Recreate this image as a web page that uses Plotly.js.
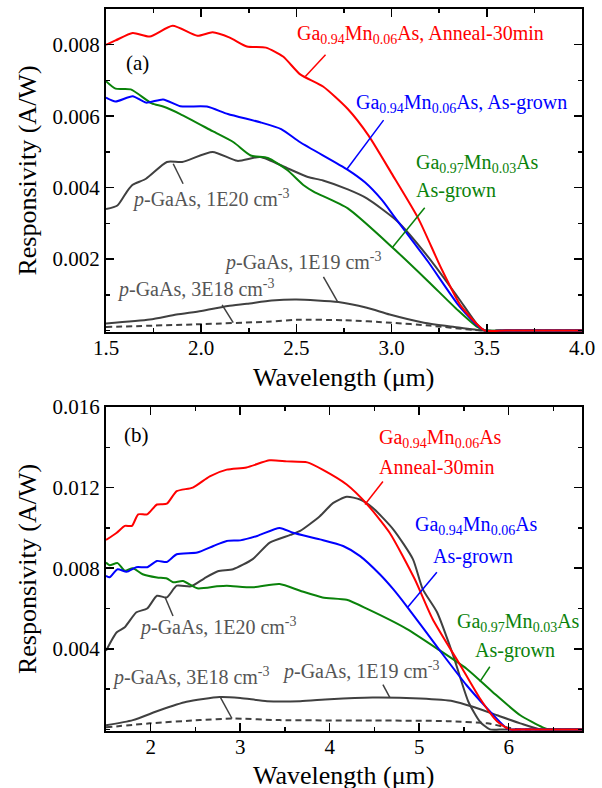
<!DOCTYPE html>
<html>
<head>
<meta charset="utf-8">
<script src="https://cdn.plot.ly/plotly-3.0.1.min.js"></script>
<style>html,body{margin:0;padding:0;background:#fff;}#chart{width:602px;height:788px;}</style>
</head>
<body>
<div id="chart"></div>
<script>
// ---------- Panel (a) data: wavelength (um) and responsivity (A/W) ----------
const aRedX   = [1.5,1.55,1.64,1.73,1.85,1.98,2.06,2.15,2.24,2.34,2.43,2.52,2.64,2.77,2.88,3.0,3.14,3.26,3.36,3.45,3.49,3.6,4.0];
const aRedY   = [0.0080,0.00812,0.00833,0.00823,0.00853,0.00825,0.00835,0.0082,0.00795,0.00792,0.00767,0.00717,0.00683,0.0062,0.00545,0.0044,0.00314,0.00175,0.00072,0.00017,0,0,0];
const aBlueX  = [1.5,1.55,1.64,1.71,1.80,1.89,2.03,2.14,2.31,2.42,2.52,2.77,2.86,2.95,3.01,3.19,3.35,3.45,3.49,3.6,4.0];
const aBlueY  = [0.00652,0.00641,0.00656,0.00638,0.00647,0.00628,0.00627,0.00606,0.00583,0.00564,0.00527,0.0045,0.00415,0.00365,0.00322,0.00194,0.00072,0.00014,0,0,0];
const aGreenX = [1.5,1.55,1.63,1.74,1.80,1.89,2.06,2.17,2.26,2.35,2.45,2.54,2.59,2.77,3.01,3.19,3.35,3.45,3.49,3.6,4.0];
const aGreenY = [0.00698,0.00677,0.00675,0.00636,0.00627,0.00606,0.00558,0.00527,0.0049,0.00483,0.0045,0.00406,0.00389,0.00342,0.0023,0.00139,0.00056,0.0001,0,0,0];
const a1E20X  = [1.5,1.56,1.61,1.64,1.71,1.82,1.90,2.06,2.19,2.31,2.45,2.56,2.64,2.77,2.87,3.03,3.21,3.35,3.45,3.49,3.6,4.0];
const a1E20Y  = [0.0034,0.0035,0.00389,0.00408,0.00425,0.00472,0.00472,0.005,0.00475,0.00486,0.00455,0.0043,0.0042,0.00395,0.0037,0.00306,0.00194,0.00092,0.00017,0,0,0];
const a1E19X  = [1.5,1.73,1.87,2.0,2.14,2.24,2.37,2.5,2.72,2.87,2.99,3.17,3.33,3.48,3.6,4.0];
const a1E19Y  = [0.0002,0.00031,0.00045,0.00055,0.00069,0.00075,0.00084,0.00087,0.0008,0.00064,0.00045,0.00022,0.0001,0,0,0];
const a3E18X  = [1.5,2.0,2.35,2.5,2.75,3.0,3.2,3.43,3.5,3.6,4.0];
const a3E18Y  = [0.0001,0.00018,0.00025,0.0003,0.00029,0.00022,0.00014,0.00002,0,0,0];

// ---------- Panel (b) data ----------
const bRedX   = [1.5,1.62,1.71,1.79,1.86,1.96,2.07,2.18,2.29,2.47,2.66,2.85,3.07,3.33,3.52,3.75,3.92,4.19,4.42,4.67,4.95,5.15,5.46,5.68,5.87,6.01,6.15,6.82];
const bRedY   = [0.0094,0.00976,0.0101,0.0101,0.01067,0.01067,0.01116,0.0112,0.01182,0.012,0.01256,0.01289,0.013,0.01335,0.0133,0.01325,0.01289,0.01215,0.01116,0.00976,0.00746,0.00548,0.00318,0.00153,0.0004,0,0,0];
const bBlueX  = [1.5,1.54,1.63,1.73,1.84,1.96,2.07,2.18,2.29,2.52,2.70,2.85,3.0,3.19,3.44,3.59,3.89,4.15,4.34,4.56,4.71,4.87,5.23,5.53,5.76,5.94,6.0,6.15,6.82];
const bBlueY  = [0.00762,0.00755,0.00795,0.00782,0.00805,0.00805,0.00836,0.00831,0.00869,0.00878,0.0091,0.00935,0.00938,0.0096,0.01,0.00976,0.00943,0.0091,0.0086,0.0077,0.00696,0.00606,0.00392,0.00219,0.00104,0.0002,0,0,0];
const bGreenX = [1.5,1.54,1.63,1.71,1.80,1.91,2.07,2.18,2.25,2.36,2.52,2.74,2.85,3.14,3.44,3.67,3.92,4.19,4.42,4.86,5.23,5.53,5.82,6.13,6.38,6.45,6.6,6.82];
const bGreenY = [0.00828,0.00815,0.00825,0.00787,0.008,0.0077,0.00754,0.00749,0.0073,0.00736,0.007,0.0071,0.00713,0.00705,0.00721,0.00688,0.00655,0.00643,0.00598,0.00499,0.00392,0.00301,0.00186,0.0007,0.0001,0,0,0];
const b1E20X  = [1.5,1.62,1.71,1.84,1.96,2.07,2.18,2.29,2.45,2.6,2.75,2.92,3.14,3.33,3.56,3.67,3.89,4.04,4.19,4.34,4.48,4.71,4.93,5.04,5.20,5.38,5.55,5.68,5.79,5.95,6.82];
const b1E20Y  = [0.0039,0.00482,0.00507,0.00581,0.006,0.00663,0.00655,0.00713,0.0071,0.0075,0.00785,0.00795,0.00845,0.00927,0.00965,0.00985,0.01058,0.01124,0.01154,0.01141,0.011,0.00993,0.00845,0.00696,0.00581,0.00367,0.00137,0.00038,0,0,0];
const b1E19X  = [1.5,1.8,2.1,2.4,2.77,3.0,3.3,3.67,4.0,4.48,5.01,5.38,5.6,5.87,6.13,6.35,6.5,6.82];
const b1E19Y  = [0.0002,0.00046,0.00095,0.00137,0.00161,0.00156,0.0014,0.0014,0.0015,0.00158,0.00153,0.0014,0.00112,0.0007,0.0003,0,0,0];
const b3E18X  = [1.5,1.99,2.55,2.92,3.44,4.5,5.31,5.76,5.98,6.1,6.25,6.82];
const b3E18Y  = [0.0001,0.0003,0.00046,0.00054,0.00046,0.00044,0.00041,0.0003,0.0001,0,0,0];

// tick labels
const aXTicks = [1.5,2.0,2.5,3.0,3.5,4.0];
const aYTicks = [0.002,0.004,0.006,0.008];
const bXTicks = [2,3,4,5,6];
const bYTicks = [0.004,0.008,0.012,0.016];

const RED='#ff0000', BLUE='#0000ff', GREEN='#0a820a', GRAY='#404040', GRAYT='#555555';
const SERIF='Liberation Serif';

function tr(x,y,color,xa,ya,dash){
  return {x:x,y:y,xaxis:xa,yaxis:ya,type:'scatter',mode:'lines',
    line:{color:color,width:2,shape:'spline',smoothing:0.6,dash:dash||'solid'},hoverinfo:'skip',showlegend:false};
}
const data=[
  tr(a3E18X,a3E18Y,GRAY,'x','y','6px,4px'),
  tr(a1E19X,a1E19Y,GRAY,'x','y'),
  tr(a1E20X,a1E20Y,GRAY,'x','y'),
  tr(aGreenX,aGreenY,GREEN,'x','y'),
  tr(aBlueX,aBlueY,BLUE,'x','y'),
  tr(aRedX,aRedY,RED,'x','y'),
  tr(b3E18X,b3E18Y,GRAY,'x2','y2','6px,4px'),
  tr(b1E19X,b1E19Y,GRAY,'x2','y2'),
  tr(b1E20X,b1E20Y,GRAY,'x2','y2'),
  tr(bGreenX,bGreenY,GREEN,'x2','y2'),
  tr(bBlueX,bBlueY,BLUE,'x2','y2'),
  tr(bRedX,bRedY,RED,'x2','y2')
];

const axBase={showgrid:false,zeroline:false,showline:true,linecolor:'#000',linewidth:2,mirror:'allticks',
  ticks:'inside',ticklen:8,tickwidth:1.5,tickcolor:'#000',tickfont:{family:SERIF,size:21,color:'#000'}};

function ann(x,y,text,color,xref,yref,xanchor,size){
  return {x:x,y:y,xref:xref,yref:yref,text:text,showarrow:false,xanchor:xanchor||'left',yanchor:'middle',
    font:{family:SERIF,size:size||20,color:color}};
}
function seg(x0,y0,x1,y1,color,xref,yref){
  return {type:'line',x0:x0,y0:y0,x1:x1,y1:y1,xref:xref,yref:yref,line:{color:color,width:1.5}};
}
const GMA='Ga<sub>0.94</sub>Mn<sub>0.06</sub>As', GMB='Ga<sub>0.97</sub>Mn<sub>0.03</sub>As';
const mnr=(d)=>({ticks:'inside',ticklen:4,tickwidth:1.5,tickcolor:'#000',dtick:d,tick0:0});
const ttl=(t,s)=>({text:t,font:{family:SERIF,size:26,color:'#000'},standoff:s});

const layout={
  width:602,height:788,margin:{l:106,r:20,t:9,b:57},
  font:{family:SERIF,color:'#000'},
  paper_bgcolor:'#fff',plot_bgcolor:'#fff',showlegend:false,
  xaxis:Object.assign({},axBase,{domain:[0,1],anchor:'y',range:[1.5,4.0],tickvals:aXTicks,tickformat:'.1f',minor:mnr(0.25),ticklabelstandoff:-4}),
  yaxis:Object.assign({},axBase,{domain:[0.5526,1],anchor:'x',range:[-0.00004,0.009],tickvals:aYTicks,tickformat:'.3f',
    minor:mnr(0.001),title:ttl('Responsivity (A/W)',8)}),
  xaxis2:Object.assign({},axBase,{domain:[0,1],anchor:'y2',range:[1.5,6.82],tickvals:bXTicks,minor:mnr(0.5),ticklabelstandoff:-4}),
  yaxis2:Object.assign({},axBase,{domain:[0,0.4488],anchor:'x2',range:[-0.00008,0.016],tickvals:bYTicks,tickformat:'.3f',
    minor:mnr(0.002),title:ttl('Responsivity (A/W)',8)}),
  annotations:[
    {x:0.5,y:0.4903,xref:'paper',yref:'paper',text:'Wavelength (\u03bcm)',showarrow:false,xanchor:'center',yanchor:'middle',font:{family:SERIF,size:26,color:'#000'}},
    {x:0.5,y:-0.061,xref:'paper',yref:'paper',text:'Wavelength (\u03bcm)',showarrow:false,xanchor:'center',yanchor:'middle',font:{family:SERIF,size:26,color:'#000'}},
    ann(1.663,0.0075,'(a)','#000','x','y','center',21),
    ann(2.495,0.00828,GMA+', Anneal-30min',RED,'x','y'),
    ann(2.80,0.00636,GMA+', As-grown',BLUE,'x','y'),
    ann(3.116,0.00468,GMB,GREEN,'x','y'),
    ann(3.116,0.00392,'As-grown',GREEN,'x','y'),
    ann(1.626,0.00369,'<i>p</i>-GaAs, 1E20 cm<sup>-3</sup>',GRAYT,'x','y'),
    ann(2.11,0.00194,'<i>p</i>-GaAs, 1E19 cm<sup>-3</sup>',GRAYT,'x','y'),
    ann(1.547,0.00119,'<i>p</i>-GaAs, 3E18 cm<sup>-3</sup>',GRAYT,'x','y'),

    ann(1.846,0.01462,'(b)','#000','x2','y2','center',21),
    ann(4.528,0.01445,GMA,RED,'x2','y2'),
    ann(4.528,0.01304,'Anneal-30min',RED,'x2','y2'),
    ann(4.93,0.0101,GMA,BLUE,'x2','y2'),
    ann(5.60,0.00859,'As-grown',BLUE,'x2','y2','center'),
    ann(5.40,0.00531,GMB,GREEN,'x2','y2'),
    ann(6.07,0.0039,'As-grown',GREEN,'x2','y2','center'),
    ann(1.846,0.00509,'<i>p</i>-GaAs, 1E20 cm<sup>-3</sup>',GRAYT,'x2','y2'),
    ann(1.545,0.00262,'<i>p</i>-GaAs, 3E18 cm<sup>-3</sup>',GRAYT,'x2','y2'),
    ann(3.444,0.00291,'<i>p</i>-GaAs, 1E19 cm<sup>-3</sup>',GRAYT,'x2','y2')
  ],
  shapes:[
    seg(2.653,0.00772,2.547,0.00711,RED,'x','y'),
    seg(2.958,0.00589,2.763,0.0045,BLUE,'x','y'),
    seg(3.174,0.00344,3.005,0.00233,GREEN,'x','y'),
    seg(1.905,0.00411,1.853,0.00467,GRAY,'x','y'),
    seg(2.642,0.0015,2.716,0.00081,GRAY,'x','y'),
    seg(2.11,0.00072,2.168,0.00022,GRAY,'x','y'),

    seg(4.595,0.0123,4.394,0.01116,RED,'x2','y2'),
    seg(5.198,0.0078,4.874,0.00607,BLUE,'x2','y2'),
    seg(5.79,0.00311,5.679,0.00237,GREEN,'x2','y2'),
    seg(2.249,0.00563,2.159,0.00657,GRAY,'x2','y2'),
    seg(2.774,0.00163,2.908,0.00054,GRAY,'x2','y2'),
    seg(4.595,0.00222,4.673,0.00158,GRAY,'x2','y2')
  ]
};
Plotly.newPlot('chart',data,layout,{staticPlot:true,displayModeBar:false});
</script>
</body>
</html>
